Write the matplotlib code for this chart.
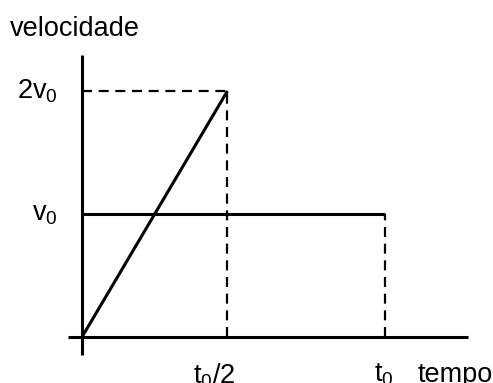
import matplotlib
matplotlib.use('Agg')
import matplotlib.pyplot as plt

plt.rcParams['font.family'] = ['Liberation Sans', 'DejaVu Sans']
plt.rcParams['mathtext.fontset'] = 'custom'
plt.rcParams['mathtext.rm'] = 'Liberation Sans'
plt.rcParams['mathtext.it'] = 'Liberation Sans'

# dados (t em unidades de t0, v em unidades de v0)
t0 = 1.0
t_meio = 0.48
v0 = 1.0
v_max = 2.0

t_rampa = [0, t_meio]
v_rampa = [0, v_max]
t_const = [0, t0]
v_const = [v0, v0]

rotulo_y = 'velocidade'
rotulo_x = 'tempo'
ticks_y = [r'$\mathregular{2v_0}$', r'$\mathregular{v_0}$']
ticks_x = [r'$\mathregular{t_0/2}$', r'$\mathregular{t_0}$']

fig = plt.figure(figsize=(4.93, 3.83), dpi=100)
ax = fig.add_axes([0, 0, 1, 1])
ax.set_xlim(-82 / 303, 411 / 303)
ax.set_ylim(-46 / 123, 337 / 123)
ax.axis('off')

lw = 2.2
# eixos
ax.plot([0, 0], [-18 / 123, 282 / 123], color='black', lw=lw, solid_capstyle='butt')
ax.plot([-14 / 303, 386 / 303], [0, 0], color='black', lw=lw, solid_capstyle='butt')

# retas
ax.plot(t_rampa, v_rampa, color='black', lw=lw, solid_capstyle='butt')
ax.plot(t_const, v_const, color='black', lw=lw, solid_capstyle='butt')

# tracejadas
tr = dict(color='black', lw=1.6, dashes=(4.5, 3))
ax.plot([0, t_meio], [v_max, v_max], **tr)
ax.plot([t_meio, t_meio], [0, v_max], **tr)
ax.plot([t0, t0], [0, v0], **tr)

fs = 19.5
ax.text(-72 / 303, 301 / 123, rotulo_y, fontsize=fs, va='baseline', ha='left')
ax.annotate(ticks_y[0], xy=(0, v_max), xytext=(-24, 0), textcoords='offset pixels',
            ha='right', va='center', fontsize=fs)
ax.annotate(ticks_y[1], xy=(0, v0), xytext=(-24, 0), textcoords='offset pixels',
            ha='right', va='center', fontsize=fs)
ax.annotate(ticks_x[0], xy=(t_meio, 0), xytext=(-13, -25), textcoords='offset pixels',
            ha='center', va='top', fontsize=fs)
ax.annotate(ticks_x[1], xy=(t0, 0), xytext=(-1, -25), textcoords='offset pixels',
            ha='center', va='top', fontsize=fs)
ax.annotate(rotulo_x, xy=(t0, 0), xytext=(33, -25), textcoords='offset pixels',
            ha='left', va='top', fontsize=fs)

fig.savefig('out.png', dpi=100)
